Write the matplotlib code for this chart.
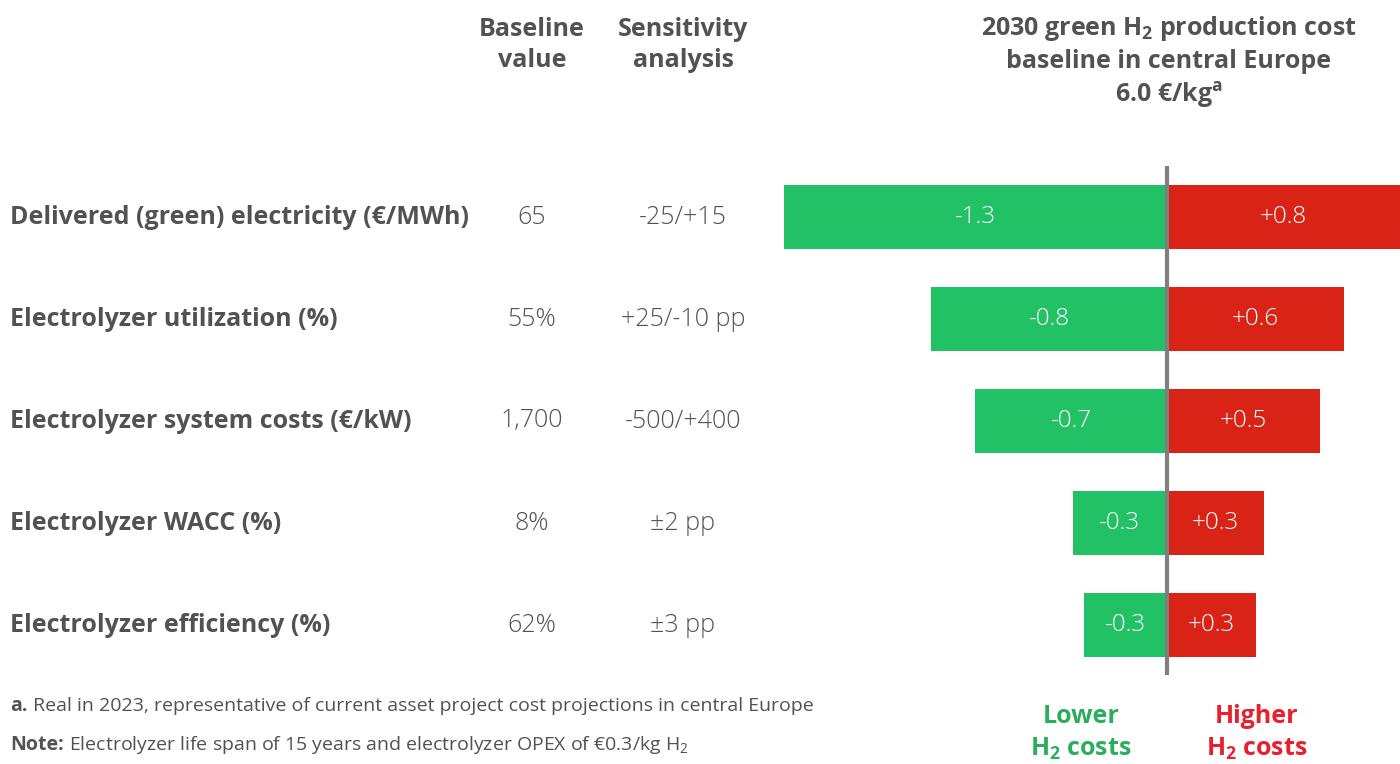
import matplotlib
matplotlib.use("Agg")
import matplotlib.pyplot as plt
from matplotlib.transforms import blended_transform_factory

plt.rcParams['font.family'] = ['Open Sans', 'DejaVu Sans']
plt.rcParams['mathtext.default'] = 'regular'

# data
factors = ["Delivered (green) electricity (€/MWh)", "Electrolyzer utilization (%)",
           "Electrolyzer system costs (€/kW)", "Electrolyzer WACC (%)",
           "Electrolyzer efficiency (%)"]
baseline = ["65", "55%", "1,700", "8%", "62%"]
sensitivity = ["-25/+15", "+25/-10 pp", "-500/+400", "±2 pp", "±3 pp"]
lower = [-1.3, -0.8, -0.65, -0.32, -0.28]
higher = [0.79, 0.6, 0.52, 0.33, 0.30]
lower_lbl = ["-1.3", "-0.8", "-0.7", "-0.3", "-0.3"]
higher_lbl = ["+0.8", "+0.6", "+0.5", "+0.3", "+0.3"]

TXT = "#525252"
GREEN = "#23c166"
RED = "#d82316"

fig = plt.figure(figsize=(14, 7.64), dpi=100)
ax = fig.add_axes([0, 0, 1, 1])
ax.set_xlim(-1167 / 295, 233 / 295)
ax.set_ylim((764 - 217) / 102, -217 / 102)
ax.axis("off")

rows = list(range(len(factors)))
ax.barh(rows, lower, height=0.62, color=GREEN, left=0)
ax.barh(rows, higher, height=0.62, color=RED, left=0)
ax.vlines(0, -0.5, 4.49, color="#7f7f7f", lw=3, zorder=3)

for i in rows:
    ax.text(lower[i] / 2, i, lower_lbl[i], color="white", fontsize=17.5,
            fontweight="light", ha="center", va="center")
    ax.text(higher[i] / 2, i, higher_lbl[i], color="white", fontsize=17.5,
            fontweight="light", ha="center", va="center")

tr = blended_transform_factory(fig.transFigure, ax.transData)
for i in rows:
    ax.text(10 / 1400, i, factors[i], transform=tr, color=TXT, fontsize=18,
            fontweight="bold", ha="left", va="center")
    ax.text(532 / 1400, i, baseline[i], transform=tr, color=TXT, fontsize=18,
            fontweight="light", ha="center", va="center")
    ax.text(683 / 1400, i, sensitivity[i], transform=tr, color=TXT, fontsize=18,
            fontweight="light", ha="center", va="center")

def fy(py):
    return 1 - py / 764

fig.text(532 / 1400, fy(45), "Baseline\nvalue", color=TXT, fontsize=18,
         fontweight="bold", ha="center", va="center", linespacing=1.3)
fig.text(683 / 1400, fy(45), "Sensitivity\nanalysis", color=TXT, fontsize=18,
         fontweight="bold", ha="center", va="center", linespacing=1.3)
fig.text(1169 / 1400, fy(62), "2030 green H$_2$ production cost\nbaseline in central Europe\n6.0 €/kg$^a$",
         color=TXT, fontsize=18, fontweight="bold", ha="center", va="center",
         linespacing=1.3)

fig.text(1081 / 1400, fy(733), "Lower\nH$_2$ costs", color="#2aae5a", fontsize=18,
         fontweight="bold", ha="center", va="center", linespacing=1.3)
fig.text(1257 / 1400, fy(733), "Higher\nH$_2$ costs", color="#e8202e", fontsize=18,
         fontweight="bold", ha="center", va="center", linespacing=1.3)

# footnotes: bold lead-in followed by regular text
t1 = fig.text(10 / 1400, fy(706), "a.", color=TXT, fontsize=14,
              fontweight="bold", ha="left", va="center")
ax.annotate(" Real in 2023, representative of current asset project cost projections in central Europe",
            xy=(1, 0.5), xycoords=t1, color=TXT, fontsize=14, ha="left", va="center")
t2 = fig.text(10 / 1400, fy(745), "Note:", color=TXT, fontsize=14,
              fontweight="bold", ha="left", va="center")
ax.annotate(" Electrolyzer life span of 15 years and electrolyzer OPEX of €0.3/kg H$_2$",
            xy=(1, 0.5), xycoords=t2, color=TXT, fontsize=14, ha="left", va="center")

fig.savefig("out.png", dpi=100)
